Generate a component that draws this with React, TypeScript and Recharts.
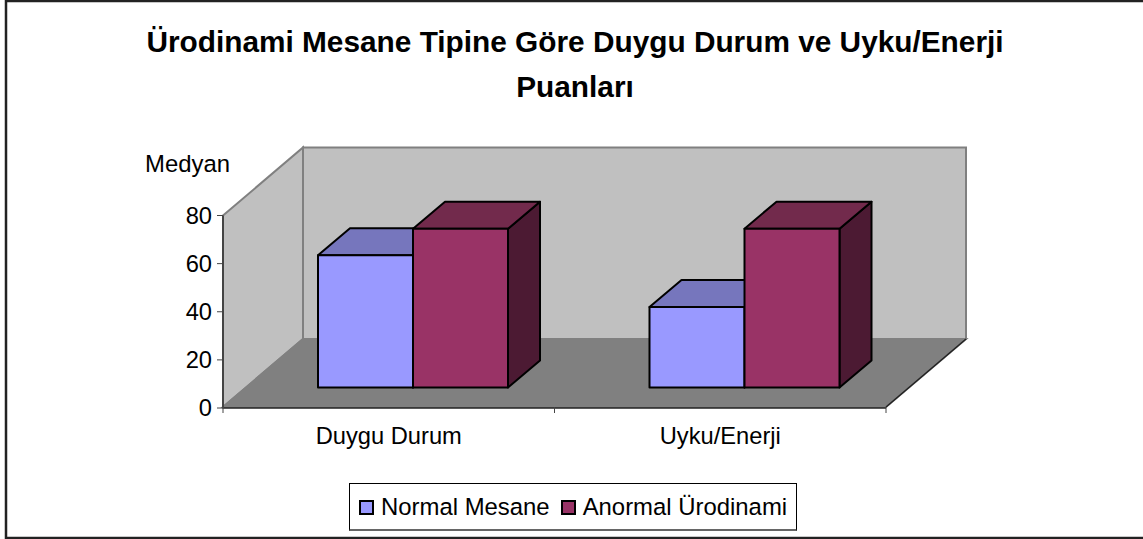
import { Bar, BarChart, Legend, XAxis, YAxis } from "recharts";

const categories = ["Duygu Durum", "Uyku/Enerji"];
const normalMesane = [55, 33.5];
const anormalUrodinami = [66, 66];
const yTicks = [0, 20, 40, 60, 80];

const table = categories.map((name, i) => ({
  name,
  normal: normalMesane[i],
  anormal: anormalUrodinami[i],
}));

const FONT = '"Liberation Sans", Arial, sans-serif';
const LEFT = 223;
const RIGHT = 886;
const TOP = 215.5;
const BOTTOM = 407;
const WALL_DX = 80;
const WALL_DY = 68;
// bars stand partway back on the floor
const BAR_DX = 24;
const BAR_DY = 20.5;
const DEPTH_DX = 32;
const DEPTH_DY = 27;
const LEGEND_HEIGHT = 49;

function Bar3D(props: any) {
  const { x, y, width, height, fill, topFill, sideFill } = props;
  const l = x + BAR_DX;
  const r = l + width;
  const t = y - BAR_DY;
  const b = t + height;
  return (
    <g stroke="#000" strokeWidth={2} strokeLinejoin="round">
      <polygon
        points={`${r},${t} ${r + DEPTH_DX},${t - DEPTH_DY} ${r + DEPTH_DX},${b - DEPTH_DY} ${r},${b}`}
        fill={sideFill}
      />
      <polygon
        points={`${l},${t} ${l + DEPTH_DX},${t - DEPTH_DY} ${r + DEPTH_DX},${t - DEPTH_DY} ${r},${t}`}
        fill={topFill}
      />
      <rect x={l} y={t} width={width} height={height} fill={fill} />
    </g>
  );
}

function CategoryTick(props: any) {
  const { x, y, payload } = props;
  const half = (RIGHT - LEFT) / categories.length / 2;
  return (
    <g>
      <line x1={x - half} x2={x - half} y1={BOTTOM} y2={BOTTOM + 6} stroke="#444" />
      <line x1={x + half} x2={x + half} y1={BOTTOM} y2={BOTTOM + 6} stroke="#444" />
      <text x={x} y={y + 28} textAnchor="middle" fontSize={23.7} fill="#000" fontFamily={FONT}>
        {payload.value}
      </text>
    </g>
  );
}

function ChartLegend({ payload }: any) {
  return (
    <div
      style={{
        boxSizing: "border-box",
        width: 448,
        height: LEGEND_HEIGHT - 1,
        border: "1px solid #000",
        borderBottom: "2px solid #666",
        background: "#fff",
        display: "flex",
        alignItems: "center",
        paddingLeft: 9,
        fontFamily: FONT,
        fontSize: 23.9,
        color: "#000",
        whiteSpace: "nowrap",
      }}
    >
      {(payload ?? []).map((item: any) => (
        <span key={item.value} style={{ display: "flex", flexShrink: 0, alignItems: "center", marginRight: 11 }}>
          <span
            style={{
              boxSizing: "border-box",
              flexShrink: 0,
              width: 15,
              height: 15,
              marginRight: 7,
              marginTop: 2,
              border: "2px solid #000",
              background: item.color,
            }}
          />
          {item.value}
        </span>
      ))}
    </div>
  );
}

export default function App() {
  return (
    <div style={{ position: "absolute", left: 0, top: 0, width: 1143, height: 539, background: "#fff" }}>
      <BarChart
        width={1143}
        height={539}
        data={table}
        barGap={0}
        barCategoryGap="21.2%"
        margin={{ top: TOP, right: 1143 - RIGHT, left: LEFT - 60, bottom: 539 - BOTTOM - 30 - LEGEND_HEIGHT }}
      >
        <rect x={6} y={1} width={1150} height={537} fill="#fff" stroke="#222" strokeWidth={2.5} />
        <text x={575} y={52} textAnchor="middle" fontSize={29.8} fontWeight="bold" fill="#000" fontFamily={FONT}>
          Ürodinami Mesane Tipine Göre Duygu Durum ve Uyku/Enerji
        </text>
        <text x={575} y={97} textAnchor="middle" fontSize={29.8} fontWeight="bold" fill="#000" fontFamily={FONT}>
          Puanları
        </text>
        <text x={145} y={172} fontSize={23.9} fill="#000" fontFamily={FONT}>
          Medyan
        </text>
        <g stroke="#808080" strokeWidth={2}>
          <polygon
            points={`${LEFT},${TOP} ${LEFT + WALL_DX},${TOP - WALL_DY} ${LEFT + WALL_DX},${BOTTOM - WALL_DY} ${LEFT},${BOTTOM}`}
            fill="#c0c0c0"
          />
          <rect x={LEFT + WALL_DX} y={TOP - WALL_DY} width={RIGHT - LEFT} height={BOTTOM - TOP} fill="#c0c0c0" />
          <polygon
            points={`${LEFT},${BOTTOM} ${RIGHT},${BOTTOM} ${RIGHT + WALL_DX},${BOTTOM - WALL_DY} ${LEFT + WALL_DX},${BOTTOM - WALL_DY}`}
            fill="#808080"
          />
        </g>
        <line x1={RIGHT} y1={BOTTOM} x2={RIGHT + WALL_DX} y2={BOTTOM - WALL_DY} stroke="#222" strokeWidth={1.5} />
        <XAxis
          dataKey="name"
          height={30}
          axisLine={{ stroke: "#222", strokeWidth: 1.5 }}
          tickLine={false}
          tick={<CategoryTick />}
          interval={0}
        />
        <YAxis
          width={60}
          domain={[0, 80]}
          ticks={yTicks}
          interval={0}
          axisLine={{ stroke: "#444", strokeWidth: 2 }}
          tickLine={{ stroke: "#444" }}
          tickSize={6}
          tickMargin={5}
          tick={{ fill: "#000", fontSize: 23.7, fontFamily: FONT }}
        />
        <Legend
          verticalAlign="bottom"
          itemSorter={null}
          content={<ChartLegend />}
          wrapperStyle={{ left: 349, bottom: 8, width: 448, height: LEGEND_HEIGHT - 1 }}
        />
        <Bar
          dataKey="normal"
          name="Normal Mesane"
          fill="#9999ff"
          barSize={95}
          shape={<Bar3D topFill="#7676bd" sideFill="#4d4d80" />}
          isAnimationActive={false}
        />
        <Bar
          dataKey="anormal"
          name="Anormal Ürodinami"
          fill="#993366"
          barSize={95}
          shape={<Bar3D topFill="#722a4c" sideFill="#4c1a33" />}
          isAnimationActive={false}
        />
      </BarChart>
    </div>
  );
}
